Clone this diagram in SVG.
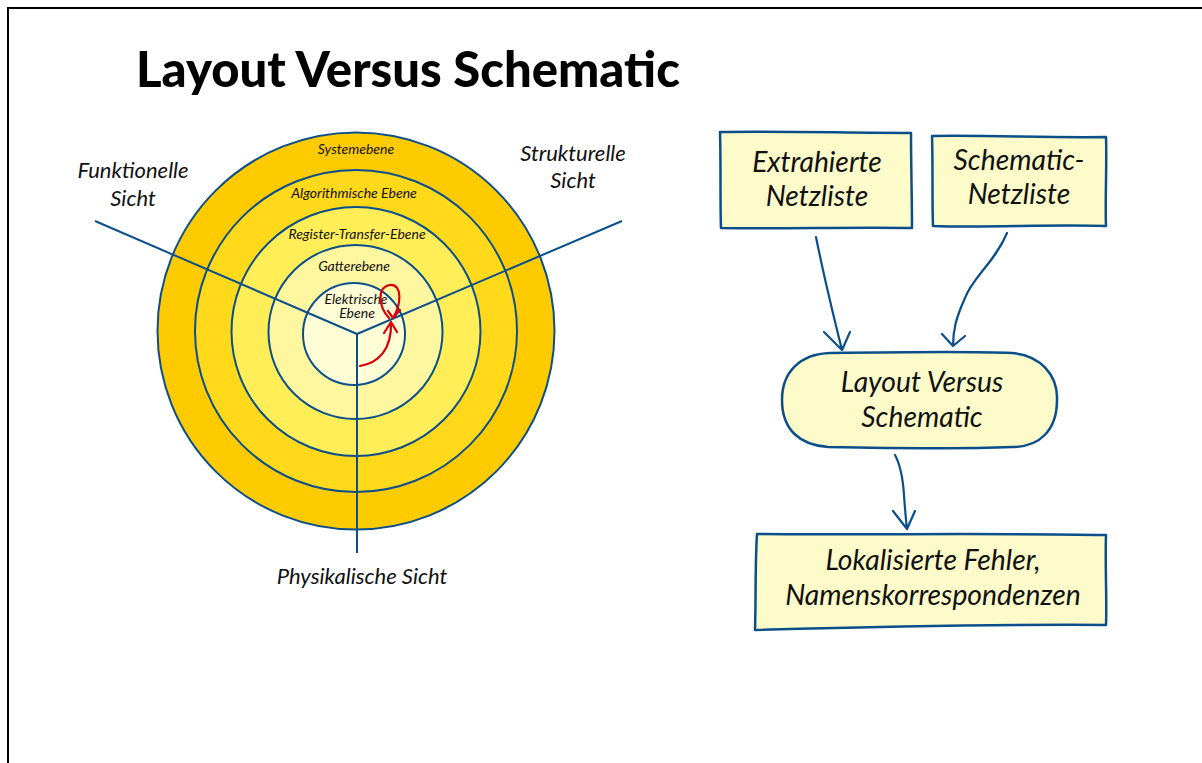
<svg xmlns="http://www.w3.org/2000/svg" width="1202" height="763" viewBox="0 0 1202 763">
<style>
.t{font-family:Lato,"Open Sans","Liberation Sans",sans-serif;font-style:italic;fill:#111;text-anchor:middle}
.s{font-size:14px}
.v{font-size:22px}
.b{font-size:28.3px}
.ring{stroke:#0b4f8a;stroke-width:2}
.axis{stroke:#0b4f8a;stroke-width:2;fill:none}
.box{fill:#fdfbc9;stroke:#0b4f8a;stroke-width:2.5;stroke-linejoin:round}
.con{fill:none;stroke:#0b4f8a;stroke-width:2.2;stroke-linecap:round;stroke-linejoin:round}
.red{fill:none;stroke:#d9000d;stroke-width:2.2;stroke-linecap:round;stroke-linejoin:round}
</style>
<rect x="0" y="0" width="1202" height="763" fill="#fff"/>
<rect x="8" y="8" width="1210" height="800" fill="none" stroke="#000" stroke-width="2"/>
<text x="136" y="87" font-family="Lato,'Liberation Sans',sans-serif" font-weight="900" font-size="49" fill="#000">Layout Versus Schematic</text>

<g id="onion">
<circle class="ring" cx="356" cy="331" r="198.5" fill="#fecb00"/>
<circle class="ring" cx="356" cy="331" r="161" fill="#ffd91a"/>
<circle class="ring" cx="356" cy="331.5" r="124.5" fill="#ffee58"/>
<circle class="ring" cx="355.5" cy="332" r="87" fill="#fff7a0"/>
<circle class="ring" cx="354" cy="334" r="51" fill="#fffdd6"/>
<path class="axis" d="M357,334 L357,553 M357,334 L95,221 M357,334 L622,221"/>
<text class="t s" x="356" y="154">Systemebene</text>
<text class="t s" x="354" y="198">Algorithmische Ebene</text>
<text class="t s" x="357" y="239">Register-Transfer-Ebene</text>
<text class="t s" x="354" y="271">Gatterebene</text>
<text class="t s" x="356" y="304">Elektrische</text>
<text class="t s" x="357" y="318">Ebene</text>
<path class="red" d="M360,366 C378,363 392,350 391,322 M384,333 L391,322 L397,332"/>
<path class="red" d="M389,318 C378,306 377,287 390,285 C403,284 401,305 393,318 M388,311 L393,318 L400,310"/>
<text class="t v" x="133" y="178">Funktionelle</text>
<text class="t v" x="133" y="206">Sicht</text>
<text class="t v" x="573" y="161">Strukturelle</text>
<text class="t v" x="573" y="188">Sicht</text>
<text class="t v" x="362" y="584">Physikalische Sicht</text>
</g>

<g id="connectors">
<path class="con" d="M816,237 C823,272 832,310 842,350 M824,332 L842,350 L850,332"/>
<path class="con" d="M1007,233 C995,262 972,278 965,298 C956,318 953,330 953,346 M942,334 L953,346 L965,336"/>
<path class="con" d="M895,455 C901,466 903,480 904,495 C905,510 906,520 907,529 M893,511 L907,529 L915,511"/>
</g>

<g id="extrahierte">
<path class="box" d="M720,132 C780,131 850,133 911,133 C911,165 912,200 912,228 C850,227 780,229 721,228 C720,200 721,165 720,132 Z"/>
<text class="t b" x="817" y="172">Extrahierte</text>
<text class="t b" x="817" y="206">Netzliste</text>
</g>

<g id="schematic">
<path class="box" d="M932,136 C990,135 1050,138 1106,137 C1107,165 1105,200 1106,226 C1050,224 990,228 933,226 C932,200 933,165 932,136 Z"/>
<text class="t b" x="1019" y="170">Schematic-</text>
<text class="t b" x="1019" y="204">Netzliste</text>
</g>

<g id="lvs">
<path class="box" d="M830,353 C900,352 970,351 1012,353 C1040,355 1058,375 1057,400 C1057,430 1040,447 1012,447 C960,449 880,448 828,447 C800,445 782,430 782,400 C782,372 800,354 830,353 Z"/>
<text class="t b" x="922" y="392">Layout Versus</text>
<text class="t b" x="922" y="427">Schematic</text>
</g>

<g id="fehler">
<path class="box" d="M757,534 C870,535 990,533 1106,535 C1105,565 1107,600 1106,625 C990,624 870,627 755,630 C756,600 755,565 757,534 Z"/>
<text class="t b" x="933" y="570">Lokalisierte Fehler,</text>
<text class="t b" x="933" y="605">Namenskorrespondenzen</text>
</g>
</svg>
